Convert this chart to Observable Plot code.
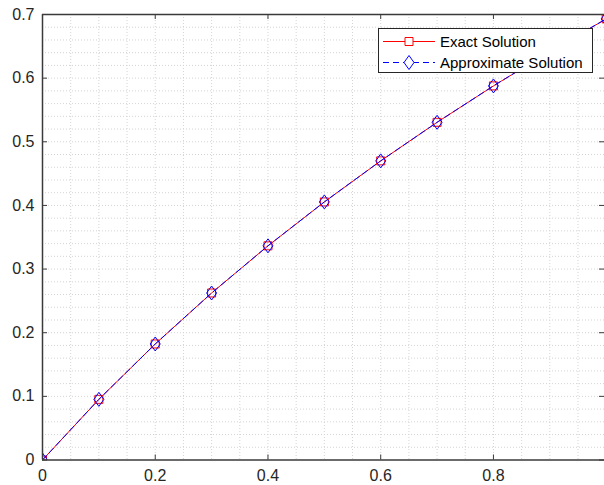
<!DOCTYPE html>
<html><head><meta charset="utf-8">
<script src="https://cdn.jsdelivr.net/npm/d3@7"></script>
<script src="https://cdn.jsdelivr.net/npm/@observablehq/plot@0.6"></script>
<style>
html,body{margin:0;padding:0;background:#fff;}
#wrap{position:relative;width:604px;height:485px;overflow:hidden;}
#legend{position:absolute;left:378px;top:28px;width:215px;height:45px;box-sizing:border-box;border:1px solid #262626;background:#fff;}
#legend svg{position:absolute;left:0;top:0;}
</style></head><body><div id="wrap"></div>
<script>
const xs = [0, 0.1, 0.2, 0.3, 0.4, 0.5, 0.6, 0.7, 0.8, 0.9, 1.0];
const exact = [0, 0.0953, 0.1823, 0.2624, 0.3365, 0.4055, 0.4700, 0.5306, 0.5878, 0.6419, 0.6931];
const approx = [0, 0.0953, 0.1823, 0.2624, 0.3365, 0.4055, 0.4700, 0.5306, 0.5878, 0.6419, 0.6931];
const seriesNames = ["Exact Solution", "Approximate Solution"];
const xTicks = [0, 0.2, 0.4, 0.6, 0.8];
const xTickLabels = ["0", "0.2", "0.4", "0.6", "0.8"];
const yTicks = [0, 0.1, 0.2, 0.3, 0.4, 0.5, 0.6, 0.7];
const yTickLabels = ["0", "0.1", "0.2", "0.3", "0.4", "0.5", "0.6", "0.7"];

const W = 604, H = 485, ML = 42, MR = 0, MT = 14, MB = 25.5;
const fw = W - ML - MR, fh = H - MT - MB, TICK = 5;
const AX = "#3a3a3a";

const xGrid = d3.range(1, 20).map(i => i * 0.05);
const yGrid = d3.range(1, 35).map(i => i * 0.02);

const exactData = xs.map((x, i) => ({x, y: exact[i]}));
const approxData = xs.map((x, i) => ({x, y: approx[i]}));

const squareSym = {draw(ctx, size) { const r = Math.sqrt(size / Math.PI); ctx.moveTo(-r, -r); ctx.lineTo(r, -r); ctx.lineTo(r, r); ctx.lineTo(-r, r); ctx.closePath(); }};
const diamondSym = {draw(ctx, size) { const r = Math.sqrt(size / Math.PI); ctx.moveTo(0, -1.4 * r); ctx.lineTo(r, 0); ctx.lineTo(0, 1.4 * r); ctx.lineTo(-r, 0); ctx.closePath(); }};

const chart = Plot.plot({
  width: W, height: H,
  marginLeft: ML, marginRight: MR, marginTop: MT, marginBottom: MB,
  style: {fontFamily: "'Liberation Sans', Arial, sans-serif", fontSize: "16px", color: "#262626", background: "#fff"},
  x: {domain: [0, 0.997], label: null},
  y: {domain: [0, 0.7], label: null},
  marks: [
    Plot.ruleX(xGrid, {x: d => d, stroke: "#d4d4d4", strokeDasharray: "1,2", strokeWidth: 1}),
    Plot.ruleY(yGrid, {y: d => d, stroke: "#d4d4d4", strokeDasharray: "1,2", strokeWidth: 1}),
    Plot.line(exactData, {x: "x", y: "y", stroke: "#ff0000", strokeWidth: 1, clip: true}),
    Plot.dot(exactData, {x: "x", y: "y", symbol: squareSym, r: 4, stroke: "#ff0000", fill: "none", strokeWidth: 1, clip: true}),
    Plot.line(approxData, {x: "x", y: "y", stroke: "#0000ff", strokeWidth: 1, strokeDasharray: "6,4", clip: true}),
    Plot.dot(approxData, {x: "x", y: "y", symbol: diamondSym, r: 5, stroke: "#0000ff", fill: "none", strokeWidth: 1, clip: true}),
    Plot.tickX(xTicks, {x: d => d, insetTop: fh - TICK, stroke: AX}),
    Plot.tickX(xTicks, {x: d => d, insetBottom: fh - TICK, stroke: AX}),
    Plot.tickY(yTicks, {y: d => d, insetRight: fw - TICK, stroke: AX}),
    Plot.tickY(yTicks, {y: d => d, insetLeft: fw - TICK, stroke: AX}),
    Plot.ruleX([0], {stroke: AX, strokeWidth: 1.5}),
    Plot.ruleY([0, 0.7], {stroke: AX, strokeWidth: 1.5}),
    Plot.axisX(xTicks, {tickSize: 0, tickPadding: 9.5, fontSize: 16, label: null, tickFormat: d => xTickLabels[xTicks.indexOf(d)]}),
    Plot.axisY(yTicks, {tickSize: 0, tickPadding: 8, fontSize: 16, label: null, tickFormat: d => yTickLabels[yTicks.indexOf(d)]})
  ]
});
const wrap = document.getElementById("wrap");
wrap.appendChild(chart);

// legend
const leg = document.createElement("div");
leg.id = "legend";
wrap.appendChild(leg);
const svg = d3.select(leg).append("svg").attr("width", 213).attr("height", 43)
  .style("font-family", "'Liberation Sans', Arial, sans-serif").style("font-size", "15px");
const rows = [
  {name: seriesNames[0], color: "#ff0000", dash: null, sym: squareSym, r: 4},
  {name: seriesNames[1], color: "#0000ff", dash: "6,4", sym: diamondSym, r: 5}
];
rows.forEach((row, i) => {
  const cy = 12.5 + i * 21;
  svg.append("line").attr("x1", 4).attr("x2", 56).attr("y1", cy).attr("y2", cy)
    .attr("stroke", row.color).attr("stroke-width", 1).attr("stroke-dasharray", row.dash);
  svg.append("path").attr("d", d3.symbol(row.sym, Math.PI * row.r * row.r)())
    .attr("transform", `translate(30,${cy})`).attr("fill", "#fff").attr("stroke", row.color);
  svg.append("text").attr("x", 61).attr("y", cy).attr("dy", "0.35em").attr("fill", "#000").text(row.name);
});
</script>
</body></html>
